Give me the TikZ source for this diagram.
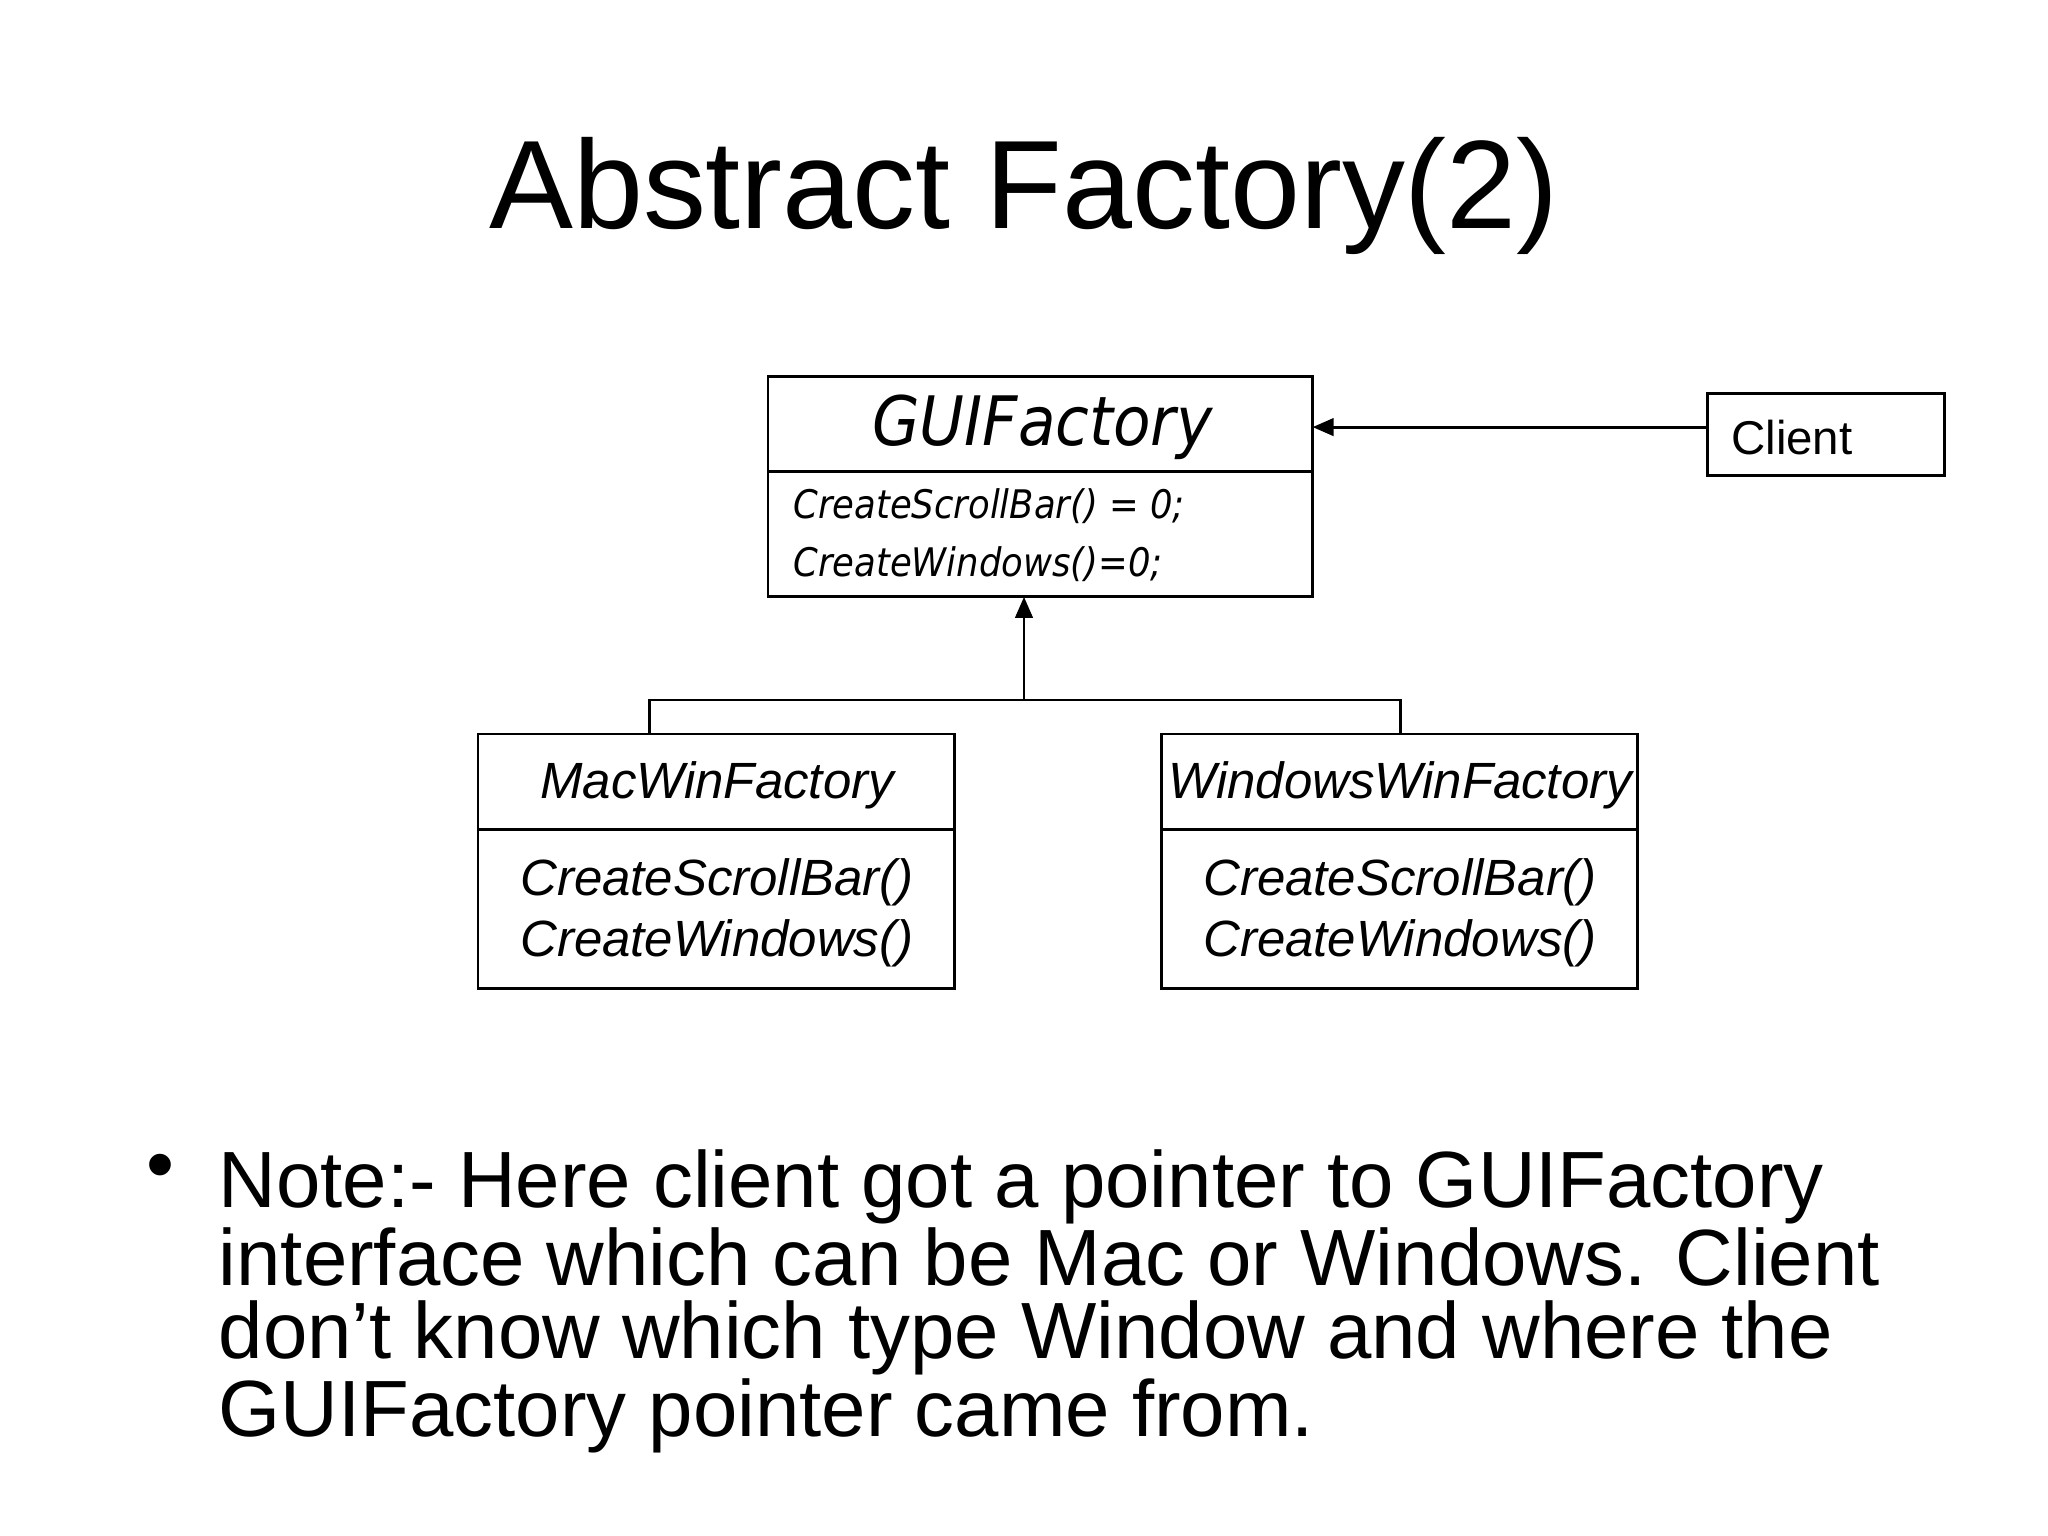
\documentclass[tikz,border=0pt]{standalone}
\usepackage{fontspec}
\setmainfont{Liberation Sans}
\newfontfamily\dvc{DejaVu Sans Condensed}
\usetikzlibrary{arrows.meta}
\begin{document}
\begin{tikzpicture}[x=0.01306cm,y=-0.01306cm,
  box/.style={draw,line width=0.8pt},
  ln/.style={line width=0.8pt},
  ar/.style={ln,-{Triangle[length=6pt,width=5pt]}},
  sub/.style={font=\itshape\fontsize{14.5}{17.5}\selectfont}]
\useasboundingbox (0,0) rectangle (1568,1176);
\node[font=\fontsize{35.8}{40}\selectfont] (title) at (784,150) {Abstract Factory(2)};
% GUIFactory
\draw[box] (588,288) rectangle (1005,457);
\draw[ln] (588,361) -- (1005,361);
\coordinate (guiR) at (1005,327);
\coordinate (guiB) at (784,457);
\node[font=\dvc\itshape\fontsize{19.4}{22}\selectfont] (guiname) at (798,327) {GUIFactory};
\node[anchor=west,align=left,font=\dvc\itshape\fontsize{11.2}{16.5}\selectfont] (guimeth) at (598,410) {CreateScrollBar() = 0;\\CreateWindows()=0;};
% Client
\node[box,minimum width=182*0.01306cm,minimum height=63*0.01306cm,inner sep=0] (client) at (1398,332.5) {};
\node[anchor=west,font=\fontsize{13.5}{16}\selectfont] (clientlbl) at (1316,335) {Client};
\coordinate (clientL) at (1307,327);
\draw[ar] (clientL) -- (guiR);
% Mac
\draw[box] (366,562) rectangle (731,757);
\draw[ln] (366,635) -- (731,635);
\node[sub] (macname) at (549,601) {MacWinFactory};
\node[sub,align=left] (macmeth) at (549,699) {CreateScrollBar()\\CreateWindows()};
% Windows
\draw[box] (889,562) rectangle (1254,757);
\draw[ln] (889,635) -- (1254,635);
\node[sub] (winname) at (1072,601) {WindowsWinFactory};
\node[sub,align=left] (winmeth) at (1072,699) {CreateScrollBar()\\CreateWindows()};
% connectors
\coordinate (macT) at (497,562);
\coordinate (winT) at (1072,562);
\coordinate (j) at (784,536);
\draw[ln] (macT) |- (winT |- j) -- (winT);
\draw[ar] (j) -- (guiB);
% note
\node[anchor=north west,font=\fontsize{22.7}{24}\selectfont] (bullet) at (103,874) {\textbullet};
\node[anchor=north west,align=left,inner sep=0,font=\fontsize{22.7}{20.8}\selectfont] (note) at (167,880) {Note:- Here client got a pointer to GUIFactory\\interface which can be Mac or Windows. Client\\don’t know which type Window and where the\\GUIFactory pointer came from.};
\end{tikzpicture}
\end{document}
